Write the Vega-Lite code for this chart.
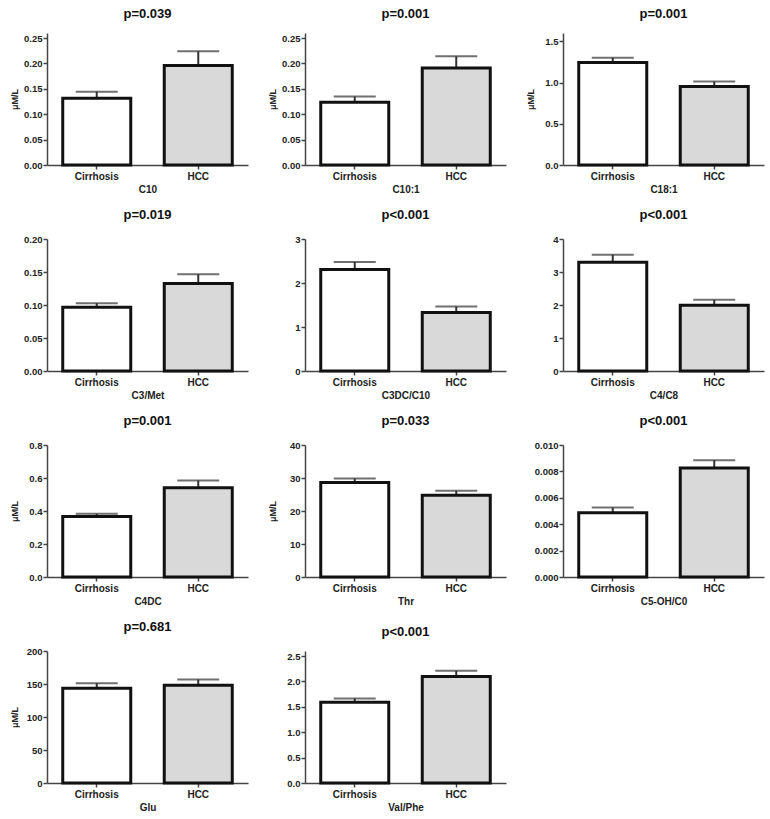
{
  "$schema": "https://vega.github.io/schema/vega-lite/v6.json",
  "padding": {"left": 10, "top": 8, "right": 4, "bottom": 4},
  "background": "white",
  "datasets": {
    "d": [
      {"m": "C10", "g": "Cirrhosis", "v": 0.1317, "up": 0.1444},
      {"m": "C10", "g": "HCC", "v": 0.196, "up": 0.224},
      {"m": "C10:1", "g": "Cirrhosis", "v": 0.1234, "up": 0.1348},
      {"m": "C10:1", "g": "HCC", "v": 0.191, "up": 0.214},
      {"m": "C18:1", "g": "Cirrhosis", "v": 1.243, "up": 1.30},
      {"m": "C18:1", "g": "HCC", "v": 0.952, "up": 1.012},
      {"m": "C3/Met", "g": "Cirrhosis", "v": 0.0967, "up": 0.1028},
      {"m": "C3/Met", "g": "HCC", "v": 0.1325, "up": 0.1466},
      {"m": "C3DC/C10", "g": "Cirrhosis", "v": 2.305, "up": 2.479},
      {"m": "C3DC/C10", "g": "HCC", "v": 1.33, "up": 1.466},
      {"m": "C4/C8", "g": "Cirrhosis", "v": 3.295, "up": 3.526},
      {"m": "C4/C8", "g": "HCC", "v": 1.995, "up": 2.156},
      {"m": "C4DC", "g": "Cirrhosis", "v": 0.3666, "up": 0.383},
      {"m": "C4DC", "g": "HCC", "v": 0.541, "up": 0.585},
      {"m": "Thr", "g": "Cirrhosis", "v": 28.66, "up": 29.87},
      {"m": "Thr", "g": "HCC", "v": 24.81, "up": 26.13},
      {"m": "C5-OH/C0", "g": "Cirrhosis", "v": 0.00486, "up": 0.00526},
      {"m": "C5-OH/C0", "g": "HCC", "v": 0.00825, "up": 0.00885},
      {"m": "Glu", "g": "Cirrhosis", "v": 143.7, "up": 151.3},
      {"m": "Glu", "g": "HCC", "v": 148.2, "up": 156.9},
      {"m": "Val/Phe", "g": "Cirrhosis", "v": 1.589, "up": 1.665},
      {"m": "Val/Phe", "g": "HCC", "v": 2.098, "up": 2.211}
    ]
  },
  "columns": 3,
  "bounds": "flush",
  "spacing": {"row": 74, "column": 57},
  "concat": [
    {
      "title": "p=0.039", "width": 201, "height": 132,
      "data": {"name": "d"}, "transform": [{"filter": "datum.m === 'C10'"}],
      "encoding": {"x": {"field": "g", "type": "nominal", "title": "C10"}},
      "layer": [
        {"mark": "rule", "encoding": {"y": {"field": "v", "type": "quantitative", "scale": {"domain": [0, 0.25]}, "axis": {"values": [0, 0.05, 0.1, 0.15, 0.2, 0.25], "format": ".2f", "title": "μM/L"}}, "y2": {"field": "up"}}},
        {"mark": "bar", "encoding": {"y": {"field": "v", "type": "quantitative", "axis": {"values": [0, 0.05, 0.1, 0.15, 0.2, 0.25], "format": ".2f", "title": "μM/L"}}, "fill": {"field": "g", "type": "nominal", "legend": null}}},
        {"mark": "tick", "encoding": {"y": {"field": "up", "type": "quantitative", "axis": {"values": [0, 0.05, 0.1, 0.15, 0.2, 0.25], "format": ".2f", "title": "μM/L"}}}}
      ]
    },
    {
      "title": "p=0.001", "width": 201, "height": 132,
      "data": {"name": "d"}, "transform": [{"filter": "datum.m === 'C10:1'"}],
      "encoding": {"x": {"field": "g", "type": "nominal", "title": "C10:1"}},
      "layer": [
        {"mark": "rule", "encoding": {"y": {"field": "v", "type": "quantitative", "scale": {"domain": [0, 0.25]}, "axis": {"values": [0, 0.05, 0.1, 0.15, 0.2, 0.25], "format": ".2f", "title": "μM/L"}}, "y2": {"field": "up"}}},
        {"mark": "bar", "encoding": {"y": {"field": "v", "type": "quantitative", "axis": {"values": [0, 0.05, 0.1, 0.15, 0.2, 0.25], "format": ".2f", "title": "μM/L"}}, "fill": {"field": "g", "type": "nominal", "legend": null}}},
        {"mark": "tick", "encoding": {"y": {"field": "up", "type": "quantitative", "axis": {"values": [0, 0.05, 0.1, 0.15, 0.2, 0.25], "format": ".2f", "title": "μM/L"}}}}
      ]
    },
    {
      "title": "p=0.001", "width": 201, "height": 132,
      "data": {"name": "d"}, "transform": [{"filter": "datum.m === 'C18:1'"}],
      "encoding": {"x": {"field": "g", "type": "nominal", "title": "C18:1"}},
      "layer": [
        {"mark": "rule", "encoding": {"y": {"field": "v", "type": "quantitative", "scale": {"domain": [0, 1.5]}, "axis": {"values": [0, 0.5, 1, 1.5], "format": ".1f", "title": "μM/L"}}, "y2": {"field": "up"}}},
        {"mark": "bar", "encoding": {"y": {"field": "v", "type": "quantitative", "axis": {"values": [0, 0.5, 1, 1.5], "format": ".1f", "title": "μM/L"}}, "fill": {"field": "g", "type": "nominal", "legend": null}}},
        {"mark": "tick", "encoding": {"y": {"field": "up", "type": "quantitative", "axis": {"values": [0, 0.5, 1, 1.5], "format": ".1f", "title": "μM/L"}}}}
      ]
    },
    {
      "title": "p=0.019", "width": 201, "height": 132,
      "data": {"name": "d"}, "transform": [{"filter": "datum.m === 'C3/Met'"}],
      "encoding": {"x": {"field": "g", "type": "nominal", "title": "C3/Met"}},
      "layer": [
        {"mark": "rule", "encoding": {"y": {"field": "v", "type": "quantitative", "scale": {"domain": [0, 0.2]}, "axis": {"values": [0, 0.05, 0.1, 0.15, 0.2], "format": ".2f", "title": null}}, "y2": {"field": "up"}}},
        {"mark": "bar", "encoding": {"y": {"field": "v", "type": "quantitative", "axis": {"values": [0, 0.05, 0.1, 0.15, 0.2], "format": ".2f", "title": null}}, "fill": {"field": "g", "type": "nominal", "legend": null}}},
        {"mark": "tick", "encoding": {"y": {"field": "up", "type": "quantitative", "axis": {"values": [0, 0.05, 0.1, 0.15, 0.2], "format": ".2f", "title": null}}}}
      ]
    },
    {
      "title": "p<0.001", "width": 201, "height": 132,
      "data": {"name": "d"}, "transform": [{"filter": "datum.m === 'C3DC/C10'"}],
      "encoding": {"x": {"field": "g", "type": "nominal", "title": "C3DC/C10"}},
      "layer": [
        {"mark": "rule", "encoding": {"y": {"field": "v", "type": "quantitative", "scale": {"domain": [0, 3]}, "axis": {"values": [0, 1, 2, 3], "format": "d", "title": null}}, "y2": {"field": "up"}}},
        {"mark": "bar", "encoding": {"y": {"field": "v", "type": "quantitative", "axis": {"values": [0, 1, 2, 3], "format": "d", "title": null}}, "fill": {"field": "g", "type": "nominal", "legend": null}}},
        {"mark": "tick", "encoding": {"y": {"field": "up", "type": "quantitative", "axis": {"values": [0, 1, 2, 3], "format": "d", "title": null}}}}
      ]
    },
    {
      "title": "p<0.001", "width": 201, "height": 132,
      "data": {"name": "d"}, "transform": [{"filter": "datum.m === 'C4/C8'"}],
      "encoding": {"x": {"field": "g", "type": "nominal", "title": "C4/C8"}},
      "layer": [
        {"mark": "rule", "encoding": {"y": {"field": "v", "type": "quantitative", "scale": {"domain": [0, 4]}, "axis": {"values": [0, 1, 2, 3, 4], "format": "d", "title": null}}, "y2": {"field": "up"}}},
        {"mark": "bar", "encoding": {"y": {"field": "v", "type": "quantitative", "axis": {"values": [0, 1, 2, 3, 4], "format": "d", "title": null}}, "fill": {"field": "g", "type": "nominal", "legend": null}}},
        {"mark": "tick", "encoding": {"y": {"field": "up", "type": "quantitative", "axis": {"values": [0, 1, 2, 3, 4], "format": "d", "title": null}}}}
      ]
    },
    {
      "title": "p=0.001", "width": 201, "height": 132,
      "data": {"name": "d"}, "transform": [{"filter": "datum.m === 'C4DC'"}],
      "encoding": {"x": {"field": "g", "type": "nominal", "title": "C4DC"}},
      "layer": [
        {"mark": "rule", "encoding": {"y": {"field": "v", "type": "quantitative", "scale": {"domain": [0, 0.8]}, "axis": {"values": [0, 0.2, 0.4, 0.6, 0.8], "format": ".1f", "title": "μM/L"}}, "y2": {"field": "up"}}},
        {"mark": "bar", "encoding": {"y": {"field": "v", "type": "quantitative", "axis": {"values": [0, 0.2, 0.4, 0.6, 0.8], "format": ".1f", "title": "μM/L"}}, "fill": {"field": "g", "type": "nominal", "legend": null}}},
        {"mark": "tick", "encoding": {"y": {"field": "up", "type": "quantitative", "axis": {"values": [0, 0.2, 0.4, 0.6, 0.8], "format": ".1f", "title": "μM/L"}}}}
      ]
    },
    {
      "title": "p=0.033", "width": 201, "height": 132,
      "data": {"name": "d"}, "transform": [{"filter": "datum.m === 'Thr'"}],
      "encoding": {"x": {"field": "g", "type": "nominal", "title": "Thr"}},
      "layer": [
        {"mark": "rule", "encoding": {"y": {"field": "v", "type": "quantitative", "scale": {"domain": [0, 40]}, "axis": {"values": [0, 10, 20, 30, 40], "format": "d", "title": "μM/L"}}, "y2": {"field": "up"}}},
        {"mark": "bar", "encoding": {"y": {"field": "v", "type": "quantitative", "axis": {"values": [0, 10, 20, 30, 40], "format": "d", "title": "μM/L"}}, "fill": {"field": "g", "type": "nominal", "legend": null}}},
        {"mark": "tick", "encoding": {"y": {"field": "up", "type": "quantitative", "axis": {"values": [0, 10, 20, 30, 40], "format": "d", "title": "μM/L"}}}}
      ]
    },
    {
      "title": "p<0.001", "width": 201, "height": 132,
      "data": {"name": "d"}, "transform": [{"filter": "datum.m === 'C5-OH/C0'"}],
      "encoding": {"x": {"field": "g", "type": "nominal", "title": "C5-OH/C0"}},
      "layer": [
        {"mark": "rule", "encoding": {"y": {"field": "v", "type": "quantitative", "scale": {"domain": [0, 0.01]}, "axis": {"values": [0, 0.002, 0.004, 0.006, 0.008, 0.01], "format": ".3f", "title": null}}, "y2": {"field": "up"}}},
        {"mark": "bar", "encoding": {"y": {"field": "v", "type": "quantitative", "axis": {"values": [0, 0.002, 0.004, 0.006, 0.008, 0.01], "format": ".3f", "title": null}}, "fill": {"field": "g", "type": "nominal", "legend": null}}},
        {"mark": "tick", "encoding": {"y": {"field": "up", "type": "quantitative", "axis": {"values": [0, 0.002, 0.004, 0.006, 0.008, 0.01], "format": ".3f", "title": null}}}}
      ]
    },
    {
      "title": "p=0.681", "width": 201, "height": 132,
      "data": {"name": "d"}, "transform": [{"filter": "datum.m === 'Glu'"}],
      "encoding": {"x": {"field": "g", "type": "nominal", "title": "Glu"}},
      "layer": [
        {"mark": "rule", "encoding": {"y": {"field": "v", "type": "quantitative", "scale": {"domain": [0, 200]}, "axis": {"values": [0, 50, 100, 150, 200], "format": "d", "title": "μM/L"}}, "y2": {"field": "up"}}},
        {"mark": "bar", "encoding": {"y": {"field": "v", "type": "quantitative", "axis": {"values": [0, 50, 100, 150, 200], "format": "d", "title": "μM/L"}}, "fill": {"field": "g", "type": "nominal", "legend": null}}},
        {"mark": "tick", "encoding": {"y": {"field": "up", "type": "quantitative", "axis": {"values": [0, 50, 100, 150, 200], "format": "d", "title": "μM/L"}}}}
      ]
    },
    {
      "title": "p<0.001", "width": 201, "height": 132,
      "data": {"name": "d"}, "transform": [{"filter": "datum.m === 'Val/Phe'"}],
      "encoding": {"x": {"field": "g", "type": "nominal", "title": "Val/Phe"}},
      "layer": [
        {"mark": "rule", "encoding": {"y": {"field": "v", "type": "quantitative", "scale": {"domain": [0, 2.5]}, "axis": {"values": [0, 0.5, 1, 1.5, 2, 2.5], "format": ".1f", "title": null}}, "y2": {"field": "up"}}},
        {"mark": "bar", "encoding": {"y": {"field": "v", "type": "quantitative", "axis": {"values": [0, 0.5, 1, 1.5, 2, 2.5], "format": ".1f", "title": null}}, "fill": {"field": "g", "type": "nominal", "legend": null}}},
        {"mark": "tick", "encoding": {"y": {"field": "up", "type": "quantitative", "axis": {"values": [0, 0.5, 1, 1.5, 2, 2.5], "format": ".1f", "title": null}}}}
      ]
    }
  ],
  "config": {
    "view": {"stroke": null},
    "font": "Liberation Sans",
    "title": {"font": "Liberation Sans", "fontSize": 13, "fontWeight": "bold", "color": "#111", "offset": 12},
    "scale": {"bandPaddingInner": 0.33, "bandPaddingOuter": 0.155},
    "range": {"category": ["#ffffff", "#d9d9d9"]},
    "bar": {"stroke": "#111", "strokeWidth": 3},
    "rule": {"color": "#333", "strokeWidth": 2},
    "tick": {"color": "#333", "thickness": 2, "size": 42},
    "axis": {
      "grid": false,
      "labelFont": "Liberation Sans", "labelFontWeight": "bold", "labelFontSize": 9.5, "labelColor": "#222",
      "titleFont": "Liberation Sans", "titleFontWeight": "bold", "titleFontSize": 10, "titleColor": "#222",
      "domainColor": "#444", "domainWidth": 1.5, "tickColor": "#444", "tickWidth": 1.5, "tickSize": 4, "labelPadding": 2
    },
    "axisX": {"labelAngle": 0, "titlePadding": 3, "labelFontSize": 10},
    "axisY": {"titleFontSize": 9, "titleX": -33, "titleY": 66, "titleAngle": -90, "titleAlign": "center", "titleBaseline": "middle", "labelPadding": 1, "labelOverlap": false}
  }
}
